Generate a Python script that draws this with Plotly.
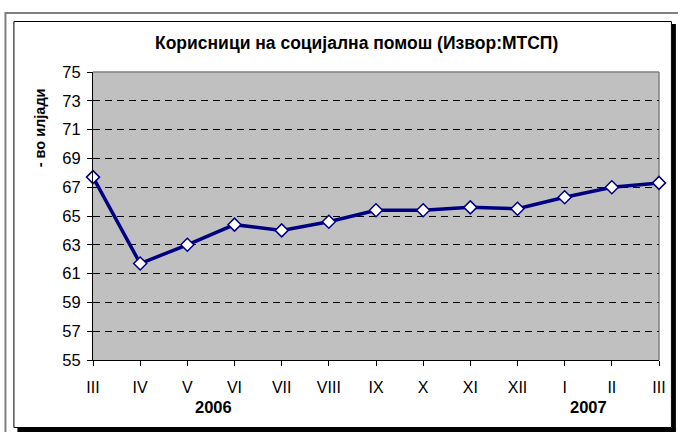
import plotly.graph_objects as go

months = ["III", "IV", "V", "VI", "VII", "VIII", "IX", "X", "XI", "XII", "I", "II", "III"]
values = [67.7, 61.7, 63.0, 64.4, 64.0, 64.6, 65.4, 65.4, 65.6, 65.5, 66.3, 67.0, 67.3]
y_ticks = [55, 57, 59, 61, 63, 65, 67, 69, 71, 73, 75]
year_labels = ["2006", "2007"]
year_pos = [2.56, 10.5]

title_text = "Корисници на социјална помош (Извор:МТСП)"
ytitle_text = "- во илјади"

W, H = 678, 432
L, R, T, B = 93, 662, 72, 360
pw, ph = R - L, B - T


def px(x):
    return (x - L) / pw


def py(y):
    return (B - y) / ph


FONT = "Liberation Sans, Arial, sans-serif"
xs = list(range(len(months)))

fig = go.Figure()
fig.add_trace(go.Scatter(
    x=xs, y=values, mode="lines+markers",
    line=dict(color="#000080", width=3.5),
    marker=dict(symbol="diamond", size=10, color="white",
                line=dict(color="#000080", width=1.5)),
    cliponaxis=False, showlegend=False, hoverinfo="skip",
))

shapes = [
    # outer gray frame (extends beyond window)
    dict(type="rect", xref="paper", yref="paper", x0=px(5), y0=py(470), x1=px(720), y1=py(13),
         line=dict(color="#808080", width=2), fillcolor="rgba(0,0,0,0)", layer="below"),
    # shadow strips
    dict(type="rect", xref="paper", yref="paper", x0=px(675), y0=py(431), x1=px(679), y1=py(24),
         line=dict(width=0), fillcolor="black", layer="below"),
    dict(type="rect", xref="paper", yref="paper", x0=px(17), y0=py(432), x1=px(679), y1=py(428),
         line=dict(width=0), fillcolor="black", layer="below"),
    # inner black frame
    dict(type="rect", xref="paper", yref="paper", x0=px(13.5), y0=py(427.5), x1=px(674.5), y1=py(21.5),
         line=dict(color="black", width=1), fillcolor="rgba(0,0,0,0)", layer="below"),
    # plot area gray border (top & right)
    dict(type="line", xref="paper", yref="paper", x0=0, y0=1, x1=1, y1=1,
         line=dict(color="#808080", width=1.5), layer="below"),
    dict(type="line", xref="paper", yref="paper", x0=1, y0=0, x1=1, y1=1,
         line=dict(color="#808080", width=1.5), layer="below"),
]

annotations = [
    dict(text="<b>" + title_text + "</b>", xref="paper", yref="paper", x=px(358), y=py(43),
         showarrow=False, font=dict(family=FONT, size=17.5, color="black"),
         xanchor="center", yanchor="middle"),
    dict(text="<b>" + ytitle_text + "</b>", xref="paper", yref="paper", x=px(40), y=py(128),
         showarrow=False, textangle=-90, font=dict(family=FONT, size=14.5, color="black"),
         xanchor="center", yanchor="middle"),
]
for lab, pos in zip(year_labels, year_pos):
    annotations.append(dict(text="<b>" + lab + "</b>", xref="x", yref="paper", x=pos, y=py(407),
                            showarrow=False, font=dict(family=FONT, size=16.5, color="black"),
                            xanchor="center", yanchor="middle"))

fig.update_layout(
    width=W, height=H,
    margin=dict(l=L, r=W - R, t=T, b=H - B, pad=0),
    paper_bgcolor="white", plot_bgcolor="#C0C0C0",
    font=dict(family=FONT, size=16, color="black"),
    shapes=shapes, annotations=annotations,
    xaxis=dict(range=[0, 12], tickmode="array", tickvals=xs, ticktext=months,
               showgrid=False, zeroline=False, showline=True, linecolor="black", linewidth=1,
               ticks="outside", ticklen=5, tickcolor="black", tickwidth=1,
               tickfont=dict(family=FONT, size=16), ticklabelstandoff=8),
    yaxis=dict(range=[55, 75], tickmode="array", tickvals=y_ticks,
               showgrid=True, gridcolor="black", gridwidth=1, griddash="7px,5px",
               zeroline=False, showline=True, linecolor="black", linewidth=1,
               ticks="outside", ticklen=5, tickcolor="black", tickwidth=1,
               tickfont=dict(family=FONT, size=16.5), ticklabelstandoff=3),
)

fig.write_html("out.html", config={"displayModeBar": False},
               post_script="document.body.style.margin='0';")
